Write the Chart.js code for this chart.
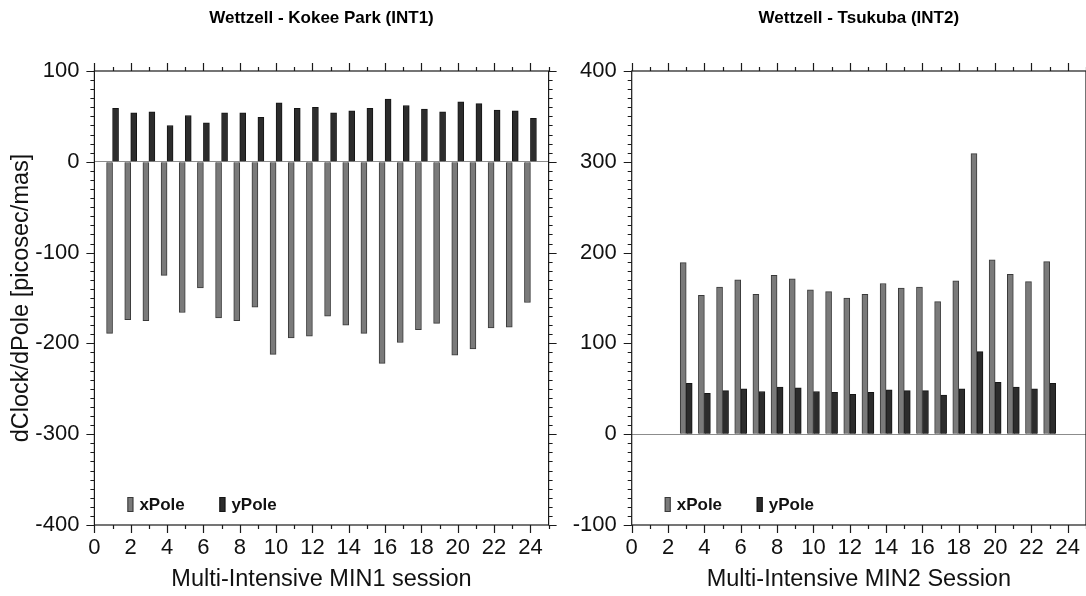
<!DOCTYPE html>
<html>
<head>
<meta charset="utf-8">
<title>dClock/dPole - INT1 / INT2</title>
<script src="https://cdn.jsdelivr.net/npm/chart.js@4.4.1/dist/chart.umd.min.js"></script>
<style>
  html, body { margin: 0; padding: 0; background: #fff; }
  #wrap { position: relative; width: 1086px; height: 596px; }
  .box { position: absolute; top: 0; height: 596px; }
  #box1 { left: 0; width: 560px; }
  #box2 { left: 560px; width: 526px; }
</style>
</head>
<body>
<div id="wrap">
  <div class="box" id="box1"><canvas id="int1"></canvas></div>
  <div class="box" id="box2"><canvas id="int2"></canvas></div>
</div>
<script>
// INT1: Wettzell - Kokee Park
const sessionsInt1 = [1, 2, 3, 4, 5, 6, 7, 8, 9, 10, 11, 12, 13, 14, 15, 16, 17, 18, 19, 20, 21, 22, 23, 24];
const xPoleInt1 = [-189, -174, -175, -125, -166, -139, -172, -175, -160, -212, -194, -192, -170, -180, -189, -222, -199, -185, -178, -213, -206, -183, -182, -155];
const yPoleInt1 = [59, 54, 55, 40, 51, 43, 54, 54, 49, 65, 59, 60, 54, 56, 59, 69, 62, 58, 55, 66, 64, 57, 56, 48];
const yTicksInt1 = [-400, -300, -200, -100, 0, 100];

// INT2: Wettzell - Tsukuba
const sessionsInt2 = [3, 4, 5, 6, 7, 8, 9, 10, 11, 12, 13, 14, 15, 16, 17, 18, 19, 20, 21, 22, 23];
const xPoleInt2 = [189, 153, 162, 170, 154, 175, 171, 159, 157, 150, 154, 166, 161, 162, 146, 169, 309, 192, 176, 168, 190];
const yPoleInt2 = [56, 45, 48, 50, 47, 52, 51, 47, 46, 44, 46, 49, 48, 48, 43, 50, 91, 57, 52, 50, 56];
const yTicksInt2 = [-100, 0, 100, 200, 300, 400];

const sessionTicks = [0, 2, 4, 6, 8, 10, 12, 14, 16, 18, 20, 22, 24];
const sessionMax = 25;

Chart.defaults.font.family = "'Liberation Sans', Arial, Helvetica, sans-serif";
Chart.defaults.color = "#111";

// frame around the plot with minor/major ticks on all four sides
const frameTicks = {
  id: "frameTicks",
  afterDraw(chart) {
    const { ctx, chartArea: a, scales: { x, y } } = chart;
    ctx.save();
    ctx.strokeStyle = "#1a1a1a";
    ctx.lineWidth = 1.2;
    ctx.strokeRect(a.left, a.top, a.right - a.left, a.bottom - a.top);
    ctx.beginPath();
    for (let v = x.min; v <= x.max; v++) {
      const px = Math.round(x.getPixelForValue(v)) + 0.5;
      const len = v % 2 === 0 ? 8 : 4;
      ctx.moveTo(px, a.bottom); ctx.lineTo(px, a.bottom + len);
      ctx.moveTo(px, a.top); ctx.lineTo(px, a.top - len);
    }
    for (let v = y.min; v <= y.max; v += 10) {
      const py = Math.round(y.getPixelForValue(v)) + 0.5;
      const len = v % 100 === 0 ? 8 : 4;
      ctx.moveTo(a.left, py); ctx.lineTo(a.left - len, py);
      ctx.moveTo(a.right, py); ctx.lineTo(a.right + len, py);
    }
    ctx.stroke();
    ctx.restore();
  }
};

// legend sitting inside the plot, bottom left
const insideLegend = {
  id: "insideLegend",
  afterDraw(chart) {
    const { ctx, chartArea: a } = chart;
    const offsets = [33, 125];
    ctx.save();
    ctx.font = "bold 17px 'Liberation Sans', Arial, sans-serif";
    ctx.textBaseline = "middle";
    chart.data.datasets.forEach((ds, i) => {
      const sx = a.left + offsets[i];
      const cy = a.bottom - 21;
      ctx.fillStyle = ds.backgroundColor;
      ctx.fillRect(sx, cy - 7, 6, 15);
      ctx.strokeStyle = ds.borderColor;
      ctx.lineWidth = 1;
      ctx.strokeRect(sx + 0.5, cy - 6.5, 5, 14);
      ctx.fillStyle = "#111";
      ctx.fillText(ds.label, sx + 12, cy + 1);
    });
    ctx.restore();
  }
};

function makeChart(id, title, xTitle, yTitle, sessions, xPole, yPole, yTicks, yWidth, rightPad) {
  return new Chart(document.getElementById(id), {
    type: "bar",
    data: {
      datasets: [
        {
          label: "xPole",
          data: sessions.map((s, i) => ({ x: s, y: xPole[i] })),
          backgroundColor: "#7a7a7a",
          borderColor: "#3a3a3a",
          borderWidth: 1,
          barThickness: 6,
        },
        {
          label: "yPole",
          data: sessions.map((s, i) => ({ x: s, y: yPole[i] })),
          backgroundColor: "#2c2c2c",
          borderColor: "#151515",
          borderWidth: 1,
          barThickness: 6,
        },
      ],
    },
    options: {
      responsive: true,
      maintainAspectRatio: false,
      animation: false,
      layout: { padding: { left: 0, right: rightPad, top: 0, bottom: 0 } },
      plugins: {
        legend: { display: false },
        tooltip: { enabled: false },
        title: {
          display: true,
          text: title,
          fullSize: false,
          color: "#000",
          font: { size: 17, weight: "bold" },
          padding: { top: 8, bottom: 42.6 },
        },
      },
      scales: {
        x: {
          type: "linear",
          min: 0,
          max: sessionMax,
          offset: false,
          grid: { display: false, drawTicks: false, offset: false },
          border: { display: false },
          ticks: { font: { size: 22 }, padding: 10, autoSkip: false, maxRotation: 0 },
          afterBuildTicks: (s) => { s.ticks = sessionTicks.map((v) => ({ value: v })); },
          afterFit: (s) => { s.height = 71; s.paddingLeft = 0; s.paddingRight = 0; },
          title: { display: true, text: xTitle, font: { size: 23.5 }, padding: { top: 0, bottom: 2 } },
        },
        y: {
          min: yTicks[0],
          max: yTicks[yTicks.length - 1],
          grid: {
            drawTicks: false,
            lineWidth: 1,
            color: (c) => (c.tick && c.tick.value === 0 ? "#8c8c8c" : "rgba(0,0,0,0)"),
          },
          border: { display: false },
          ticks: { font: { size: 22 }, padding: 15 },
          afterBuildTicks: (s) => { s.ticks = yTicks.map((v) => ({ value: v })); },
          afterFit: (s) => { s.width = yWidth; s.paddingTop = 0; s.paddingBottom = 0; },
          title: { display: !!yTitle, text: yTitle, font: { size: 23.5 }, padding: { top: 7, bottom: 0 } },
        },
      },
    },
    plugins: [frameTicks, insideLegend],
  });
}

makeChart("int1", "Wettzell - Kokee Park (INT1)", "Multi-Intensive MIN1 session", "dClock/dPole [picosec/mas]",
  sessionsInt1, xPoleInt1, yPoleInt1, yTicksInt1, 94.4, 11.4);
makeChart("int2", "Wettzell - Tsukuba (INT2)", "Multi-Intensive MIN2 Session", "",
  sessionsInt2, xPoleInt2, yPoleInt2, yTicksInt2, 71.7, 0);
</script>
</body>
</html>
